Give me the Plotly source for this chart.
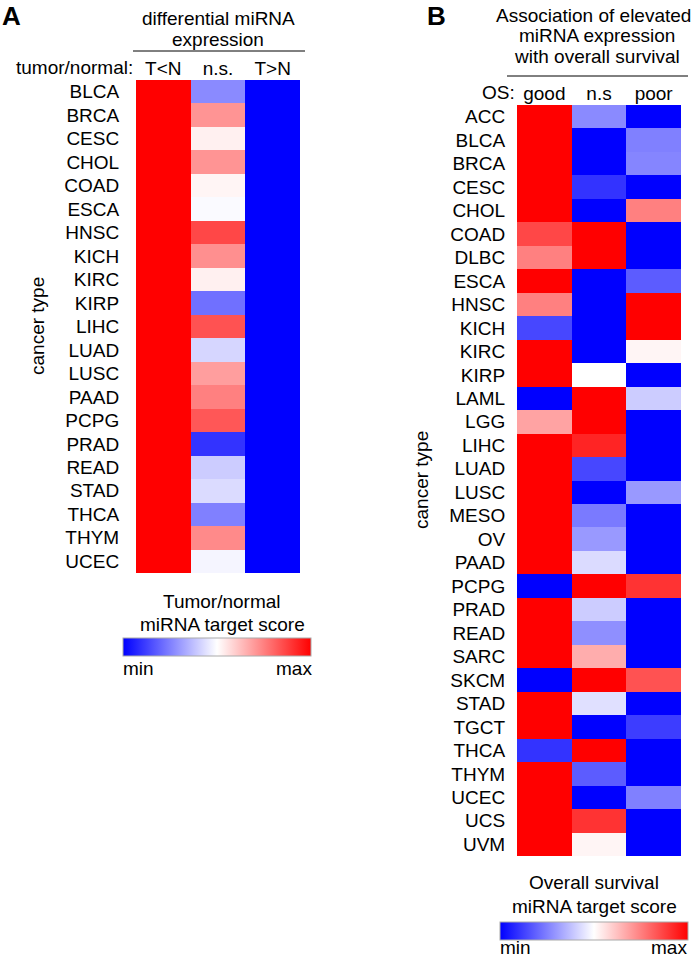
import plotly.graph_objects as go

W, H = 694, 960
FONT = "Liberation Sans, Arial, sans-serif"

# ---------------- Panel A data ----------------
a_types = ["BLCA", "BRCA", "CESC", "CHOL", "COAD", "ESCA", "HNSC", "KICH", "KIRC", "KIRP",
           "LIHC", "LUAD", "LUSC", "PAAD", "PCPG", "PRAD", "READ", "STAD", "THCA", "THYM", "UCEC"]
a_cols = ["T<N", "n.s.", "T>N"]
a_t_lt_n = [1.0, 1.0, 1.0, 1.0, 1.0, 1.0, 1.0, 1.0, 1.0, 1.0, 1.0,
            1.0, 1.0, 1.0, 1.0, 1.0, 1.0, 1.0, 1.0, 1.0, 1.0]
a_ns = [0.27, 0.71, 0.53, 0.71, 0.52, 0.49, 0.86, 0.72, 0.53, 0.22, 0.84,
        0.42, 0.69, 0.75, 0.83, 0.10, 0.40, 0.43, 0.25, 0.73, 0.48]
a_t_gt_n = [0.0, 0.0, 0.0, 0.0, 0.0, 0.0, 0.0, 0.0, 0.0, 0.0, 0.0,
            0.0, 0.0, 0.0, 0.0, 0.0, 0.0, 0.0, 0.0, 0.0, 0.0]

# ---------------- Panel B data ----------------
b_types = ["ACC", "BLCA", "BRCA", "CESC", "CHOL", "COAD", "DLBC", "ESCA", "HNSC", "KICH",
           "KIRC", "KIRP", "LAML", "LGG", "LIHC", "LUAD", "LUSC", "MESO", "OV", "PAAD",
           "PCPG", "PRAD", "READ", "SARC", "SKCM", "STAD", "TGCT", "THCA", "THYM", "UCEC",
           "UCS", "UVM"]
b_cols = ["good", "n.s", "poor"]
b_good = [1.0, 1.0, 1.0, 1.0, 1.0, 0.86, 0.75, 1.0, 0.75, 0.14,
          1.0, 1.0, 0.0, 0.68, 1.0, 1.0, 1.0, 1.0, 1.0, 1.0,
          0.0, 1.0, 1.0, 1.0, 0.0, 1.0, 1.0, 0.10, 1.0, 1.0,
          1.0, 1.0]
b_ns = [0.27, 0.0, 0.0, 0.10, 0.0, 1.0, 1.0, 0.0, 0.0, 0.0,
        0.0, 0.50, 1.0, 1.0, 0.93, 0.14, 0.0, 0.24, 0.30, 0.43,
        1.0, 0.40, 0.28, 0.66, 1.0, 0.44, 0.0, 1.0, 0.18, 0.0,
        0.90, 0.52]
b_poor = [0.0, 0.25, 0.26, 0.0, 0.75, 0.0, 0.0, 0.18, 1.0, 1.0,
          0.52, 0.0, 0.40, 0.0, 0.0, 0.0, 0.30, 0.0, 0.0, 0.0,
          0.90, 0.0, 0.0, 0.0, 0.84, 0.0, 0.12, 0.0, 0.0, 0.25,
          0.0, 0.0]

a_z = [list(r) for r in zip(a_t_lt_n, a_ns, a_t_gt_n)]
b_z = [list(r) for r in zip(b_good, b_ns, b_poor)]

cscale = [[0.0, "rgb(0,0,255)"], [0.5, "rgb(255,255,255)"], [1.0, "rgb(255,0,0)"]]


def px(x):
    return x / W


def py(y):
    return 1 - y / H


fig = go.Figure()
fig.add_trace(go.Heatmap(z=a_z, x=a_cols, y=a_types, coloraxis="coloraxis",
                         xaxis="x", yaxis="y", hoverongaps=False))
fig.add_trace(go.Heatmap(z=b_z, x=b_cols, y=b_types, coloraxis="coloraxis2",
                         xaxis="x2", yaxis="y2", hoverongaps=False))

tickfont = dict(family=FONT, size=19, color="black")


def yax(domain, anchor, ticklen):
    return dict(domain=domain, anchor=anchor, type="category", autorange="reversed",
                showgrid=False, zeroline=False, ticks="outside", ticklen=ticklen,
                tickcolor="rgba(0,0,0,0)", tickfont=tickfont, showline=False)


def xax(domain, anchor):
    return dict(domain=domain, anchor=anchor, type="category", side="top",
                showgrid=False, zeroline=False, ticks="", tickfont=tickfont,
                showline=False)


cb_common = dict(orientation="h", thickness=18, lenmode="pixels", len=188,
                 xanchor="left", yanchor="top", xpad=0, ypad=0,
                 outlinewidth=1, outlinecolor="#aaaaaa", showticklabels=False, ticks="")

fig.update_layout(
    width=W, height=H, margin=dict(l=0, r=0, t=0, b=0),
    paper_bgcolor="white", plot_bgcolor="white",
    font=dict(family=FONT, size=19, color="black"),
    xaxis=xax([px(136), px(300)], "y"),
    yaxis=yax([py(573), py(80)], "x", 12),
    xaxis2=xax([px(517), px(681)], "y2"),
    yaxis2=yax([py(856), py(105)], "x2", 7),
    coloraxis=dict(colorscale=cscale, cmin=0, cmax=1,
                   colorbar=dict(x=px(123), y=py(638), **cb_common)),
    coloraxis2=dict(colorscale=cscale, cmin=0, cmax=1,
                    colorbar=dict(x=px(500), y=py(922), **cb_common)),
)


def ann(text, x, y, size=19, xanchor="center", yanchor="middle", bold=False, angle=0):
    fig.add_annotation(text=f"<b>{text}</b>" if bold else text, x=px(x), y=py(y),
                       xref="paper", yref="paper", showarrow=False,
                       xanchor=xanchor, yanchor=yanchor, textangle=angle, borderpad=0,
                       font=dict(family=FONT, size=size, color="black"))


# Panel A texts
ann("A", 1, 16, size=26, xanchor="left", bold=True)
ann("differential miRNA", 218, 18)
ann("expression", 218, 40)
ann("tumor/normal:", 134, 67, xanchor="right")
ann("cancer type", 37, 326, angle=-90)
ann("Tumor/normal", 222, 601)
ann("miRNA target score", 222, 624)
ann("min", 122, 668, xanchor="left")
ann("max", 313, 668, xanchor="right")

# Panel B texts
ann("B", 426, 16, size=26, xanchor="left", bold=True)
ann("Association of elevated", 593, 15)
ann("miRNA expression", 597, 36)
ann("with overall survival", 597, 57)
ann("OS:", 516, 92, xanchor="right")
ann("cancer type", 421, 480, angle=-90)
ann("Overall survival", 594, 882)
ann("miRNA target score", 594, 906)
ann("min", 499, 959, xanchor="left", yanchor="bottom")
ann("max", 688, 959, xanchor="right", yanchor="bottom")

# header rules
fig.add_shape(type="line", xref="paper", yref="paper", x0=px(133), x1=px(305),
              y0=py(51), y1=py(51), line=dict(color="black", width=1))
fig.add_shape(type="line", xref="paper", yref="paper", x0=px(507), x1=px(688),
              y0=py(76), y1=py(76), line=dict(color="black", width=1))

fig.write_html("out.html")
